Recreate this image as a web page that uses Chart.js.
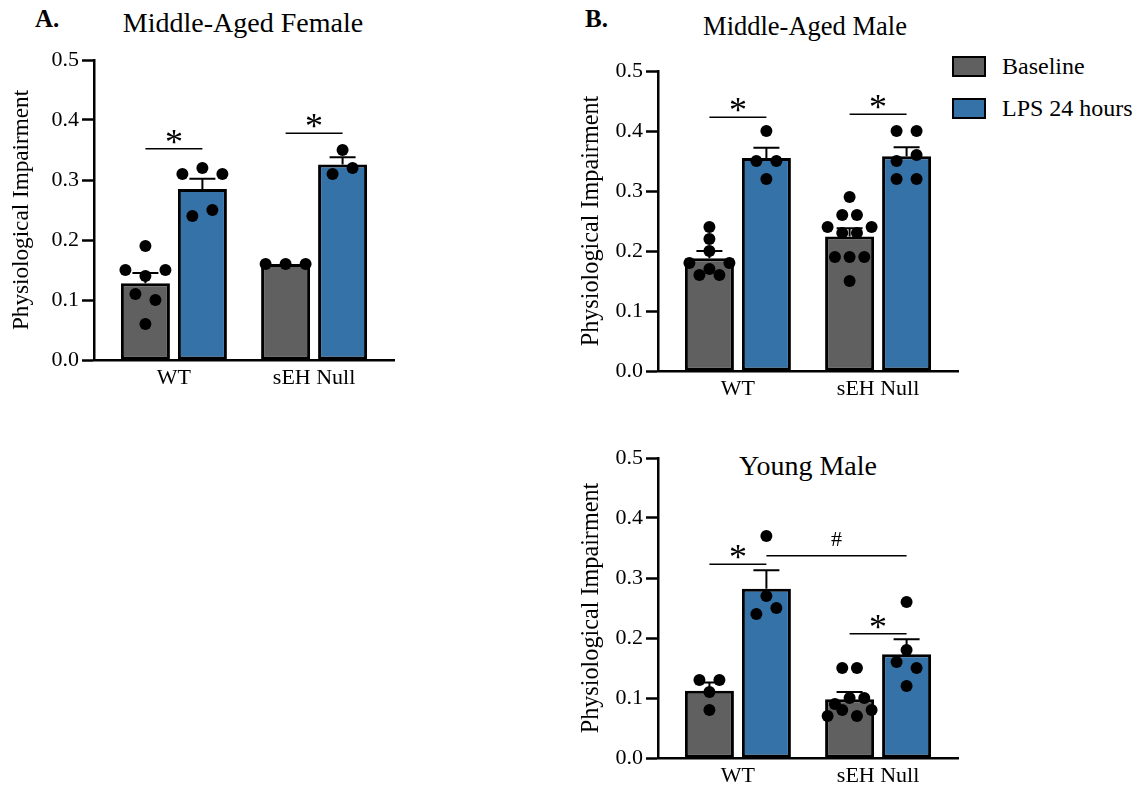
<!DOCTYPE html>
<html>
<head>
<meta charset="utf-8">
<script src="https://cdn.jsdelivr.net/npm/chart.js@4.4.1/dist/chart.umd.min.js"></script>
<style>
    body { margin: 0; background: #fff; width: 1147px; height: 790px; position: relative; overflow: hidden;
           font-family: "Liberation Serif", "Times New Roman", serif; color: #000; }
    canvas { position: absolute; }
    .heading { position: absolute; white-space: nowrap; transform: translateX(-50%); font-size: 28px; line-height: 28px; }
    .panel { position: absolute; font-size: 25px; line-height: 25px; font-weight: bold; }
    .legend-item { position: absolute; left: 952px; height: 22px; display: flex; align-items: center; font-size: 24px; white-space: nowrap; }
    .legend-item span.box { width: 30px; height: 17px; border: 2.5px solid #000; margin-right: 16px; }
</style>
</head>
<body>

<div class="panel" style="left:35px; top:6px;">A.</div>
<div class="heading" style="left:243px; top:8.5px;">Middle-Aged Female</div>
<div class="panel" style="left:585px; top:6px;">B.</div>
<div class="heading" style="left:805px; top:12.5px; font-size:26.5px; line-height:26.5px;">Middle-Aged Male</div>
<div class="heading" style="left:808px; top:452px;">Young Male</div>
<div id="legend"></div>

<canvas id="femaleChart" width="486" height="410" style="left:0px; top:0px;"></canvas>
<canvas id="maleChart" width="433" height="421" style="left:570px; top:0px;"></canvas>
<canvas id="youngChart" width="433" height="408" style="left:570px; top:400px;"></canvas>

<script>
// Categories and series
const groups = ["WT", "sEH Null"];
const seriesNames = ["Baseline", "LPS 24 hours"];
const seriesColors = ["#606060", "#3472a8"];
const yTicks = [0.0, 0.1, 0.2, 0.3, 0.4, 0.5];
const yTitle = "Physiological Impairment";

// Middle-aged female
const femaleBaseMean = [0.128, 0.16];
const femaleBaseSem = [0.017, 0];
const femaleLpsMean = [0.285, 0.326];
const femaleLpsSem = [0.017, 0.012];
const femaleBasePoints = [[0.19, 0.15, 0.14, 0.15, 0.11, 0.10, 0.06], [0.16, 0.16, 0.16]];
const femaleLpsPoints = [[0.31, 0.32, 0.31, 0.24, 0.25], [0.35, 0.31, 0.32]];
const femaleSig = [
    { g1: 0, s1: 0, g2: 0, s2: 1, y: 0.352, mark: "*" },
    { g1: 1, s1: 0, g2: 1, s2: 1, y: 0.378, mark: "*" },
];

// Middle-aged male
const maleBaseMean = [0.188, 0.224];
const maleBaseSem = [0.012, 0.014];
const maleLpsMean = [0.355, 0.358];
const maleLpsSem = [0.017, 0.015];
const maleBasePoints = [[0.24, 0.22, 0.20, 0.18, 0.17, 0.18, 0.16, 0.16],
                        [0.29, 0.26, 0.26, 0.24, 0.23, 0.23, 0.24, 0.19, 0.19, 0.19, 0.15]];
const maleLpsPoints = [[0.40, 0.35, 0.35, 0.32], [0.40, 0.40, 0.35, 0.36, 0.32, 0.32]];
const maleSig = [
    { g1: 0, s1: 0, g2: 0, s2: 1, y: 0.423, mark: "*" },
    { g1: 1, s1: 0, g2: 1, s2: 1, y: 0.428, mark: "*" },
];

// Young male
const youngBaseMean = [0.112, 0.098];
const youngBaseSem = [0.014, 0.012];
const youngLpsMean = [0.282, 0.173];
const youngLpsSem = [0.031, 0.025];
const youngBasePoints = [[0.13, 0.13, 0.11, 0.08], [0.15, 0.15, 0.09, 0.10, 0.10, 0.07, 0.08, 0.07, 0.08]];
const youngLpsPoints = [[0.37, 0.27, 0.24, 0.25], [0.26, 0.18, 0.16, 0.15, 0.12]];
const youngSig = [
    { g1: 0, s1: 0, g2: 0, s2: 1, y: 0.323, mark: "*" },
    { g1: 0, s1: 1, g2: 1, s2: 1, y: 0.337, mark: "#" },
    { g1: 1, s1: 0, g2: 1, s2: 1, y: 0.207, mark: "*" },
];

// Layout constants
const X_MIN = -0.57, X_MAX = 1.57;
const AREA_W = 300;
const PX_PER_UNIT = AREA_W / (X_MAX - X_MIN);
const CAT_PCT = 0.813, BAR_PCT = 0.86;
const DOT_STEP = 20, MAX_SPREAD = 44, ROW_GAP = 0.018;
const FONT = "'Liberation Serif', 'Times New Roman', serif";

Chart.defaults.font.family = FONT;
Chart.defaults.color = "#000";

// Legend
const legend = document.getElementById("legend");
seriesNames.forEach((name, i) => {
    const item = document.createElement("div");
    item.className = "legend-item";
    item.style.top = (55 + i * 42) + "px";
    item.innerHTML = `<span class="box" style="background:${seriesColors[i]}"></span>${name}`;
    legend.appendChild(item);
});

// Spread dots of similar value side by side, like a scatter dot plot
function swarm(values, groupIdx, seriesIdx) {
    const rows = [];
    values.forEach((v) => {
        const row = rows[rows.length - 1];
        if (row && Math.abs(row[0] - v) < ROW_GAP) row.push(v);
        else rows.push([v]);
    });
    const widest = Math.max(...rows.map((r) => r.length));
    const step = widest > 1 ? Math.min(DOT_STEP, MAX_SPREAD / (widest - 1)) : DOT_STEP;
    const centre = groupIdx + (seriesIdx === 0 ? -1 : 1) * CAT_PCT / 4;
    const out = [];
    rows.forEach((row) => row.forEach((v, i) => {
        out.push({ x: centre + ((i - (row.length - 1) / 2) * step) / PX_PER_UNIT, y: v });
    }));
    return out;
}

// Error bars (mean + SEM, upward only), drawn right after each bar dataset
const errorBars = {
    id: "errorBars",
    afterDatasetDraw(chart, args) {
        const ds = chart.data.datasets[args.index];
        if (!ds.sem) return;
        const ctx = chart.ctx;
        const yScale = chart.scales.y;
        ctx.save();
        ctx.strokeStyle = "#000";
        ctx.lineWidth = 2;
        args.meta.data.forEach((bar, i) => {
            const s = ds.sem[i];
            if (!s) return;
            const top = yScale.getPixelForValue(ds.data[i].y + s);
            ctx.beginPath();
            ctx.moveTo(bar.x, bar.y);
            ctx.lineTo(bar.x, top);
            ctx.moveTo(bar.x - 13, top);
            ctx.lineTo(bar.x + 13, top);
            ctx.stroke();
        });
        ctx.restore();
    },
};

function makeChart(id, baseMean, baseSem, lpsMean, lpsSem, basePts, lpsPts, sig, yWidth, titleSize, pad) {
    const barData = (means) => means.map((m, i) => ({ x: i, y: m }));
    const dots = (pts, s) => pts.flatMap((vals, g) => swarm(vals, g, s));

    const sigPlugin = {
        id: "sig_" + id,
        afterDatasetsDraw(chart) {
            const ctx = chart.ctx;
            const yScale = chart.scales.y;
            ctx.save();
            ctx.strokeStyle = "#000";
            ctx.fillStyle = "#000";
            ctx.lineWidth = 1.5;
            ctx.textAlign = "center";
            ctx.textBaseline = "alphabetic";
            sig.forEach((s) => {
                const x1 = chart.getDatasetMeta(s.s1).data[s.g1].x;
                const x2 = chart.getDatasetMeta(s.s2).data[s.g2].x;
                const y = yScale.getPixelForValue(s.y);
                ctx.beginPath();
                ctx.moveTo(x1, y);
                ctx.lineTo(x2, y);
                ctx.stroke();
                if (s.mark === "#") {
                    ctx.font = `22px ${FONT}`;
                    ctx.fillText(s.mark, (x1 + x2) / 2, y - 10);
                } else {
                    ctx.font = `36px ${FONT}`;
                    ctx.fillText(s.mark, (x1 + x2) / 2, y + 5);
                }
            });
            ctx.restore();
        },
    };

    return new Chart(document.getElementById(id), {
        type: "bar",
        data: {
            datasets: [
                {
                    label: seriesNames[0], data: barData(baseMean), sem: baseSem,
                    backgroundColor: seriesColors[0], borderColor: "#000", borderWidth: 3,
                    borderSkipped: false, order: 1,
                },
                {
                    label: seriesNames[1], data: barData(lpsMean), sem: lpsSem,
                    backgroundColor: seriesColors[1], borderColor: "#000", borderWidth: 3,
                    borderSkipped: false, order: 1,
                },
                {
                    type: "scatter", label: seriesNames[0] + " points", data: dots(basePts, 0),
                    backgroundColor: "#000", borderWidth: 0, pointRadius: 6, order: 0,
                },
                {
                    type: "scatter", label: seriesNames[1] + " points", data: dots(lpsPts, 1),
                    backgroundColor: "#000", borderWidth: 0, pointRadius: 6, order: 0,
                },
            ],
        },
        options: {
            responsive: false,
            animation: false,
            categoryPercentage: CAT_PCT,
            barPercentage: BAR_PCT,
            layout: { padding: { top: pad.top, right: pad.right, left: 0, bottom: 0 } },
            plugins: { legend: { display: false }, tooltip: { enabled: false }, title: { display: false } },
            scales: {
                x: {
                    type: "linear",
                    min: X_MIN,
                    max: X_MAX,
                    offset: false,
                    afterBuildTicks: (scale) => { scale.ticks = groups.map((g, i) => ({ value: i })); },
                    afterFit: (scale) => { scale.height = 50; },
                    ticks: {
                        autoSkip: false, maxRotation: 0, padding: 5,
                        font: { size: 22 }, color: "#000",
                        callback: (v, i) => groups[i],
                    },
                    grid: { display: false, drawTicks: false },
                    border: { color: "#000", width: 2.5 },
                },
                y: {
                    min: 0,
                    max: 0.5,
                    afterBuildTicks: (scale) => { scale.ticks = yTicks.map((v) => ({ value: v })); },
                    afterFit: (scale) => { scale.width = yWidth; },
                    ticks: {
                        padding: 3, font: { size: 22 }, color: "#000",
                        callback: (v) => Number(v).toFixed(1),
                    },
                    grid: { drawOnChartArea: false, drawTicks: true, tickLength: 12, tickWidth: 2.5, tickColor: "#000" },
                    border: { color: "#000", width: 2.5 },
                    title: {
                        display: true, text: yTitle, font: { size: titleSize }, color: "#000",
                        padding: { top: 22 - titleSize * 0.6, bottom: 0 },
                    },
                },
            },
        },
        plugins: [errorBars, sigPlugin],
    });
}

makeChart("femaleChart", femaleBaseMean, femaleBaseSem, femaleLpsMean, femaleLpsSem,
          femaleBasePoints, femaleLpsPoints, femaleSig, 94, 23.2, { top: 60, right: 92 });
makeChart("maleChart", maleBaseMean, maleBaseSem, maleLpsMean, maleLpsSem,
          maleBasePoints, maleLpsPoints, maleSig, 88, 24.2, { top: 71, right: 45 });
makeChart("youngChart", youngBaseMean, youngBaseSem, youngLpsMean, youngLpsSem,
          youngBasePoints, youngLpsPoints, youngSig, 88, 24.2, { top: 58, right: 45 });
</script>
</body>
</html>
